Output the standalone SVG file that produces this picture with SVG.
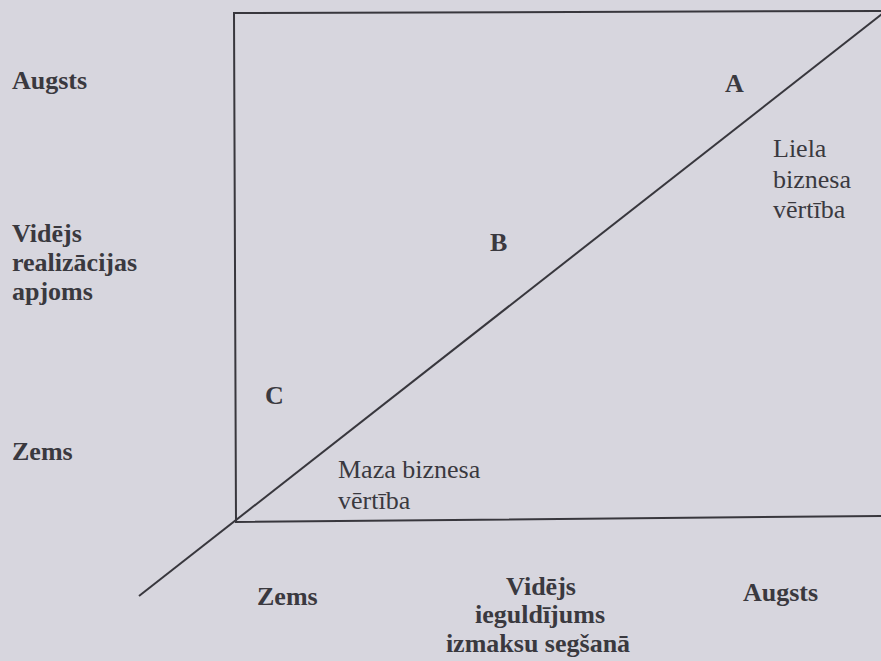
<svg xmlns="http://www.w3.org/2000/svg" width="881" height="661" viewBox="0 0 881 661">
<style>
.bg{fill:#d7d6de}
.ln{fill:none;stroke:#38373d;stroke-width:2}
.b{font-family:"Liberation Serif","Times New Roman",serif;font-weight:bold;font-size:26px;fill:#3a393f}
.r{font-family:"Liberation Serif","Times New Roman",serif;font-size:26px;fill:#3a393f}
.m{text-anchor:middle}
</style>
<rect class="bg" x="0" y="0" width="881" height="661"/>
<g id="connectors">
<path id="frame" class="ln" d="M882,11 L234,13 L236,522 L882,516"/>
<line id="diagonal" class="ln" x1="139" y1="596" x2="882" y2="14"/>
</g>
<g id="axis-y">
<text class="b" x="12" y="89">Augsts</text>
<text class="b" x="12" y="242">Vidējs</text>
<text class="b" x="12" y="271">realizācijas</text>
<text class="b" x="12" y="300">apjoms</text>
<text class="b" x="12" y="460">Zems</text>
</g>
<g id="axis-x">
<text class="b" x="257" y="605">Zems</text>
<g id="x-mid">
<text class="b m" x="541" y="595">Vidējs</text>
<text class="b m" x="540" y="623">ieguldījums</text>
<text class="b m" x="538" y="652">izmaksu segšanā</text>
</g>
<text class="b" x="743" y="601">Augsts</text>
</g>
<g id="zone-A"><text class="b" x="725" y="92">A</text></g>
<g id="zone-B"><text class="b" x="490" y="251">B</text></g>
<g id="zone-C"><text class="b" x="265" y="404">C</text></g>
<g id="label-high">
<text class="r" x="773" y="157">Liela</text>
<text class="r" x="773" y="188">biznesa</text>
<text class="r" x="773" y="218">vērtība</text>
</g>
<g id="label-low">
<text class="r" x="338" y="478">Maza biznesa</text>
<text class="r" x="338" y="509">vērtība</text>
</g>
</svg>
